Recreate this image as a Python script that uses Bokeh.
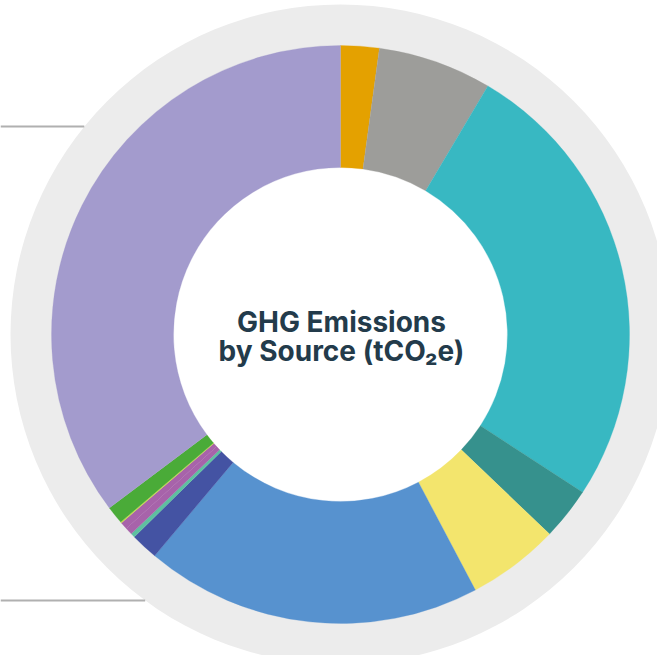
import numpy as np
from bokeh.plotting import figure
from bokeh.models import Range1d, ColumnDataSource
from bokeh.core.properties import value
from bokeh.embed import file_html
from bokeh.resources import INLINE

# Data (share of total emissions, %), clockwise from 12 o'clock
sources = ["Source A", "Source B", "Source C", "Source D", "Source E", "Source F",
           "Source G", "Source H", "Source I", "Source J", "Source K", "Source L", "Source M"]
shares = [2.15, 6.37, 25.68, 2.94, 5.14, 18.85, 1.53, 0.24, 0.40, 0.41, 0.06, 1.00, 35.25]
colors = ["#e4a100", "#9d9d9a", "#38b8c2", "#36918d", "#f3e56d", "#5792cf",
          "#4453a3", "#5ec0a0", "#a763aa", "#a763aa", "#c9dc48", "#4aab38", "#a39bcd"]
title_lines = ["GHG Emissions", "by Source (tCO\u2082e)"]

W, H = 657, 655
# data coords: x = picture pixel, y = 663 - picture pixel
p = figure(width=W, height=H, x_range=Range1d(0, 657), y_range=Range1d(8, 663),
           output_backend="svg", toolbar_location=None, min_border=0,
           background_fill_color="white", border_fill_color="white")
p.axis.visible = False
p.grid.visible = False
p.outline_line_color = None

cx, cy = 340, 663 - 334
r_in, r_out, r_ring = 167, 289, 330

# background ring
p.annulus(x=[cx], y=[cy], inner_radius=r_out - 1, outer_radius=r_ring,
          fill_color="#ececec", line_color=None)

vals = np.array(shares, dtype=float)
frac = vals / vals.sum()
ends = np.cumsum(frac) * 2 * np.pi
starts = ends - frac * 2 * np.pi
src = ColumnDataSource(dict(
    start=np.pi / 2 - starts, end=np.pi / 2 - ends, color=colors, name=sources))
p.annular_wedge(x=cx, y=cy, inner_radius=r_in, outer_radius=r_out,
                start_angle="start", end_angle="end", direction="clock",
                fill_color="color", line_color="color", line_width=0.3, source=src)

# leader lines to the outer ring
ly = np.array([663 - 126, 663 - 600])
lx_end = cx - np.sqrt(r_ring ** 2 - (ly - cy) ** 2)
p.segment(x0=[0, 0], y0=ly, x1=lx_end, y1=ly, line_color="#b0b0b0", line_width=2.2)

# center title
p.text(x=[cx + 1, cx + 1], y=[663 - 321, 663 - 350], text=title_lines,
       text_align="center", text_baseline="alphabetic",
       text_font=value("Inter"), text_font_style="bold",
       text_font_size="28px", text_color="#233b4b")

open("out.html", "w").write(file_html(p, INLINE))
